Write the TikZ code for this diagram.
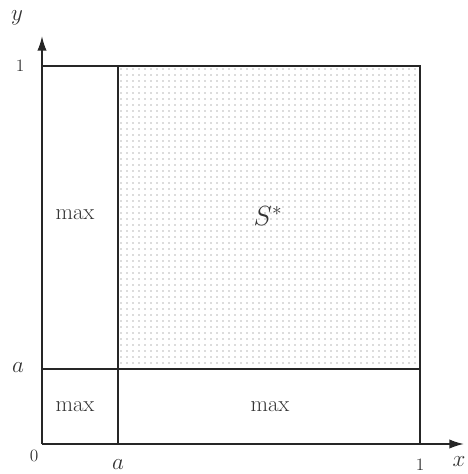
\documentclass[tikz,border=0pt]{standalone}
\usetikzlibrary{arrows.meta}
\begin{document}
\begin{tikzpicture}[x=0.75pt,y=-0.75pt,
  lbl/.style={font=\fontsize{17}{20}\selectfont, text=black!80},
  boxline/.style={line width=1.3pt, black!85},
  axis/.style={line width=1.3pt, black!85, -{Latex[length=11pt,width=7pt]}}]
\useasboundingbox (0,0) rectangle (467,474);
% dotted region
\foreach \i in {0,...,49} {
  \foreach \j in {0,...,49} {
    \fill[black!60] (121+\i*6, 69+\j*6) circle (0.7);
  }
}
\coordinate (O) at (42,444);
\coordinate (Xend) at (464,444);
\coordinate (Yend) at (42,36);
\draw[axis] (O) -- (Xend);
\draw[axis] (O) -- (Yend);
\draw[boxline] (42,66) -- (420,66) -- (420,444);
\draw[boxline] (118,66) -- (118,444);
\draw[boxline] (42,369) -- (420,369);
\node[lbl] (max1) at (75,215) {max};
\node[lbl] (max2) at (75,407) {max};
\node[lbl] (max3) at (270,407) {max};
\node[lbl, font=\fontsize{20}{24}\selectfont] (S) at (268,216) {$S^*$};
\node[lbl] (ylab) at (17,18) {$y$};
\node[lbl] (xlab) at (459,462) {$x$};
\node[lbl, font=\fontsize{13}{15}\selectfont] (one1) at (20,66) {1};
\node[lbl, font=\fontsize{13}{15}\selectfont] (one2) at (420,465) {1};
\node[lbl, font=\fontsize{13}{15}\selectfont] (zero) at (34,456) {0};
\node[lbl] (a1) at (18,368) {$a$};
\node[lbl] (a2) at (118,465) {$a$};
\end{tikzpicture}
\end{document}
